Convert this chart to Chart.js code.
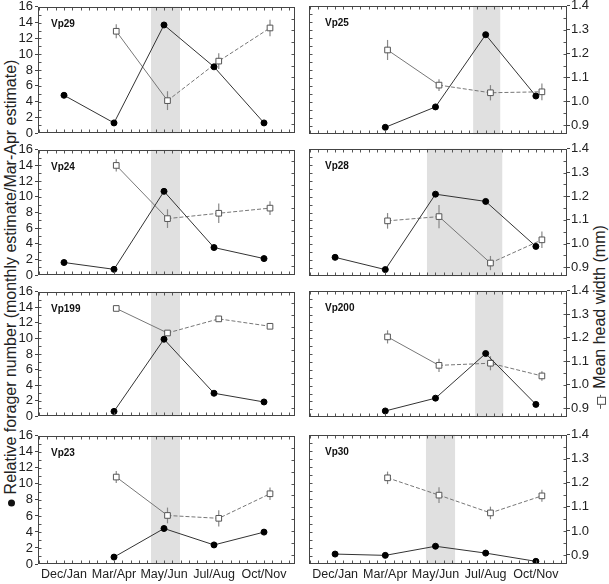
<!DOCTYPE html>
<html lang="en">
<head>
<meta charset="UTF-8" />
<title>Relative forager number and mean head width</title>
<script src="https://cdn.jsdelivr.net/npm/chart.js"></script>
<style>
  * { margin: 0; padding: 0; box-sizing: border-box; }
  body { background: #fff; font-family: "Liberation Sans", Arial, sans-serif; color: #222; }
  #wrap { position: relative; width: 609px; height: 584px; overflow: hidden; }
  .panel { position: absolute; }
  .title {
    position: absolute; white-space: nowrap; font-size: 16px;
    transform: translate(-50%, -50%) rotate(-90deg);
  }
  .dot { display: inline-block; width: 7px; height: 7px; border-radius: 50%; background: #111; vertical-align: middle; margin-right: 5px; }
  .sym { display: inline-block; position: relative; width: 14px; height: 7px; vertical-align: middle; margin-right: 6px; }
  .sym:before { content: ""; position: absolute; left: 0; right: 0; top: 3px; border-top: 1px solid #555; }
  .sym:after { content: ""; position: absolute; left: 4px; top: 0; width: 6px; height: 7px; border: 1px solid #555; background: #fff; }
</style>
</head>
<body>
<div id="wrap">
  <div class="title" style="left:11px; top:283px;"><span class="dot"></span>Relative forager number (monthly estimate/Mar-Apr estimate)</div>
  <div class="title" style="left:600px; top:317px;"><span class="sym"></span>Mean head width (mm)</div>
</div>

<script>
  const months = ["Dec/Jan", "Mar/Apr", "May/Jun", "Jul/Aug", "Oct/Nov"];
  const colonies = ["Vp29", "Vp25", "Vp24", "Vp28", "Vp199", "Vp200", "Vp23", "Vp30"];

  // closed circles, left axis
  const foragerNumber = [
    [4.8, 1.3, 13.7, 8.4, 1.3],
    [null, 0.86, 3.4, 12.4, 4.76],
    [1.62, 0.75, 10.7, 3.53, 2.12],
    [2.37, 0.83, 10.3, 9.39, 3.74],
    [null, 0.62, 9.9, 2.95, 1.83],
    [null, 0.79, 2.41, 8.06, 1.62],
    [null, 0.86, 4.43, 2.38, 3.98],
    [1.23, 1.07, 2.2, 1.35, 0.33],
  ];

  // open squares, right axis (mm)
  const headWidth = [
    [null, 1.296, 1.001, 1.169, 1.31],
    [null, 1.215, 1.068, 1.036, 1.04],
    [null, 1.333, 1.105, 1.128, 1.15],
    [null, 1.096, 1.114, 0.918, 1.016],
    [null, 1.328, 1.222, 1.283, 1.251],
    [null, 1.204, 1.083, 1.092, 1.038],
    [null, 1.227, 1.066, 1.054, 1.157],
    [null, 1.221, 1.149, 1.075, 1.146],
  ];
  const headWidthErr = [
    [null, 0.03, 0.04, 0.033, 0.035],
    [null, 0.042, 0.025, 0.032, 0.035],
    [null, 0.026, 0.04, 0.042, 0.03],
    [null, 0.033, 0.049, 0.03, 0.035],
    [null, 0.01, 0.01, 0.008, 0.008],
    [null, 0.028, 0.028, 0.03, 0.02],
    [null, 0.025, 0.033, 0.034, 0.026],
    [null, 0.026, 0.033, 0.026, 0.025],
  ];

  // grey band, in category units
  const shadeFrom = [1.74, 2.75, 1.74, 1.83, 1.74, 2.79, 1.74, 1.81];
  const shadeTo = [2.32, 3.29, 2.32, 3.33, 2.32, 3.35, 2.32, 2.39];
  // segment of the head width line drawn solid (start index), -1 = none
  const solidSegment = [1, 1, 1, 2, 1, 1, 1, -1];

  const leftTicks = [0, 2, 4, 6, 8, 10, 12, 14, 16];
  const rightTicks = [0.9, 1.0, 1.1, 1.2, 1.3, 1.4];

  const rowTop = [5, 148, 290, 434];
  const rowBottom = [135, 277, 418, 564];

  Chart.defaults.font.family = "'Liberation Sans', Arial, sans-serif";
  Chart.defaults.font.size = 13;
  Chart.defaults.color = "#222";

  const shift = (i) => i + 0.02 + 0.025 * i;

  const decor = {
    id: "decor",
    beforeDatasetsDraw(chart, args, opts) {
      const { ctx, chartArea: a, scales } = chart;
      const k = opts.k;
      const x = scales.x, y1 = scales.y1;
      ctx.save();
      ctx.fillStyle = "#e0e0e0";
      const x0 = x.getPixelForValue(shadeFrom[k]);
      const x1 = x.getPixelForValue(shadeTo[k]);
      ctx.fillRect(x0, a.top, x1 - x0, a.bottom - a.top);

      ctx.strokeStyle = "#888";
      ctx.lineWidth = 1.2;
      headWidth[k].forEach((v, i) => {
        if (v === null) return;
        const px = x.getPixelForValue(shift(i));
        const e = headWidthErr[k][i];
        ctx.beginPath();
        ctx.moveTo(px, y1.getPixelForValue(v - e));
        ctx.lineTo(px, y1.getPixelForValue(v + e));
        ctx.stroke();
      });
      ctx.restore();
    },
    afterDraw(chart, args, opts) {
      const { ctx, chartArea: a, scales } = chart;
      const k = opts.k;
      const L = Math.round(a.left) + 0.5, R = Math.round(a.right) - 0.5;
      const T = Math.round(a.top) + 0.5, B = Math.round(a.bottom) - 0.5;
      ctx.save();
      ctx.strokeStyle = "#555";
      ctx.lineWidth = 1;
      ctx.beginPath();
      // little inward ticks
      for (let i = -3; i <= 28; i++) {
        const px = Math.round(scales.x.getPixelForValue(i / 6)) + 0.5;
        if (px <= L || px >= R) continue;
        ctx.moveTo(px, B); ctx.lineTo(px, B - 3);
        ctx.moveTo(px, T); ctx.lineTo(px, T + 3);
      }
      for (let v = 1; v < 16; v++) {
        const py = Math.round(scales.y.getPixelForValue(v)) + 0.5;
        ctx.moveTo(L, py); ctx.lineTo(L + 3, py);
      }
      for (let v = 0.9; v < 1.39; v += 0.05) {
        const py = Math.round(scales.y1.getPixelForValue(v)) + 0.5;
        ctx.moveTo(R, py); ctx.lineTo(R - 3, py);
      }
      ctx.stroke();
      ctx.strokeStyle = "#444";
      ctx.strokeRect(L, T, R - L, B - T);

      ctx.fillStyle = "#111";
      ctx.font = "bold 10px 'Liberation Sans', Arial, sans-serif";
      ctx.textBaseline = "middle";
      ctx.fillText(colonies[k], a.left + (k % 2 ? 16 : 13), a.top + 17);
      ctx.restore();
    },
  };

  const wrap = document.getElementById("wrap");

  colonies.forEach((name, k) => {
    const col = k % 2;
    const row = Math.floor(k / 2);
    const bottomRow = row === 3;
    const w = col ? 305 : 300;
    const h = rowBottom[row] - rowTop[row] + 8 + (bottomRow ? 20 : 8);

    const div = document.createElement("div");
    div.className = "panel";
    div.style.left = (col ? 304 : 0) + "px";
    div.style.top = rowTop[row] - 8 + "px";
    const canvas = document.createElement("canvas");
    canvas.width = w;
    canvas.height = h;
    div.appendChild(canvas);
    wrap.appendChild(div);

    const solid = solidSegment[k];

    new Chart(canvas.getContext("2d"), {
      type: "line",
      data: {
        datasets: [
          {
            label: "Relative forager number",
            data: months.map((m, i) => ({ x: i, y: foragerNumber[k][i] })),
            yAxisID: "y",
            borderColor: "#333",
            borderWidth: 1,
            pointRadius: 3,
            pointBackgroundColor: "#000",
            pointBorderColor: "#000",
          },
          {
            label: "Mean head width (mm)",
            data: months.map((m, i) => ({ x: shift(i), y: headWidth[k][i] })),
            yAxisID: "y1",
            borderColor: "#777",
            borderWidth: 1,
            segment: {
              borderDash: (c) => (c.p0DataIndex === solid ? [] : [4, 2]),
            },
            pointStyle: "rect",
            pointRadius: 4,
            pointBackgroundColor: "#fff",
            pointBorderColor: "#555",
            pointBorderWidth: 1,
          },
        ],
      },
      options: {
        animation: false,
        responsive: false,
        layout: { padding: { top: 8, left: 0, right: 0, bottom: 0 } },
        plugins: {
          legend: { display: false },
          tooltip: { enabled: false },
          decor: { k: k },
        },
        scales: {
          x: {
            type: "linear",
            min: -0.52,
            max: 4.62,
            afterBuildTicks: (s) => { s.ticks = months.map((m, i) => ({ value: i })); },
            afterFit: (s) => { s.height = bottomRow ? 20 : 8; },
            grid: { display: false, drawTicks: false },
            border: { display: false },
            ticks: {
              display: bottomRow,
              padding: 3,
              maxRotation: 0,
              autoSkip: false,
              font: { size: 12.5 },
              callback: (v) => months[v],
            },
          },
          y: {
            position: "left",
            min: 0,
            max: 16,
            afterBuildTicks: (s) => { s.ticks = leftTicks.map((v) => ({ value: v })); },
            afterFit: (s) => { s.width = col ? 5 : 38; },
            grid: { display: col === 0, drawOnChartArea: false, tickLength: 3, color: "#444" },
            border: { display: false },
            ticks: { display: col === 0, padding: 2, autoSkip: false },
          },
          y1: {
            position: "right",
            min: 0.8625,
            max: 1.4,
            afterBuildTicks: (s) => { s.ticks = rightTicks.map((v) => ({ value: v })); },
            afterFit: (s) => { s.width = col ? 42 : 5; },
            grid: { display: col === 1, drawOnChartArea: false, tickLength: 3, color: "#444" },
            border: { display: false },
            ticks: { display: col === 1, padding: 1, autoSkip: false, callback: (v) => v.toFixed(1) },
          },
        },
      },
      plugins: [decor],
    });
  });
</script>
</body>
</html>
